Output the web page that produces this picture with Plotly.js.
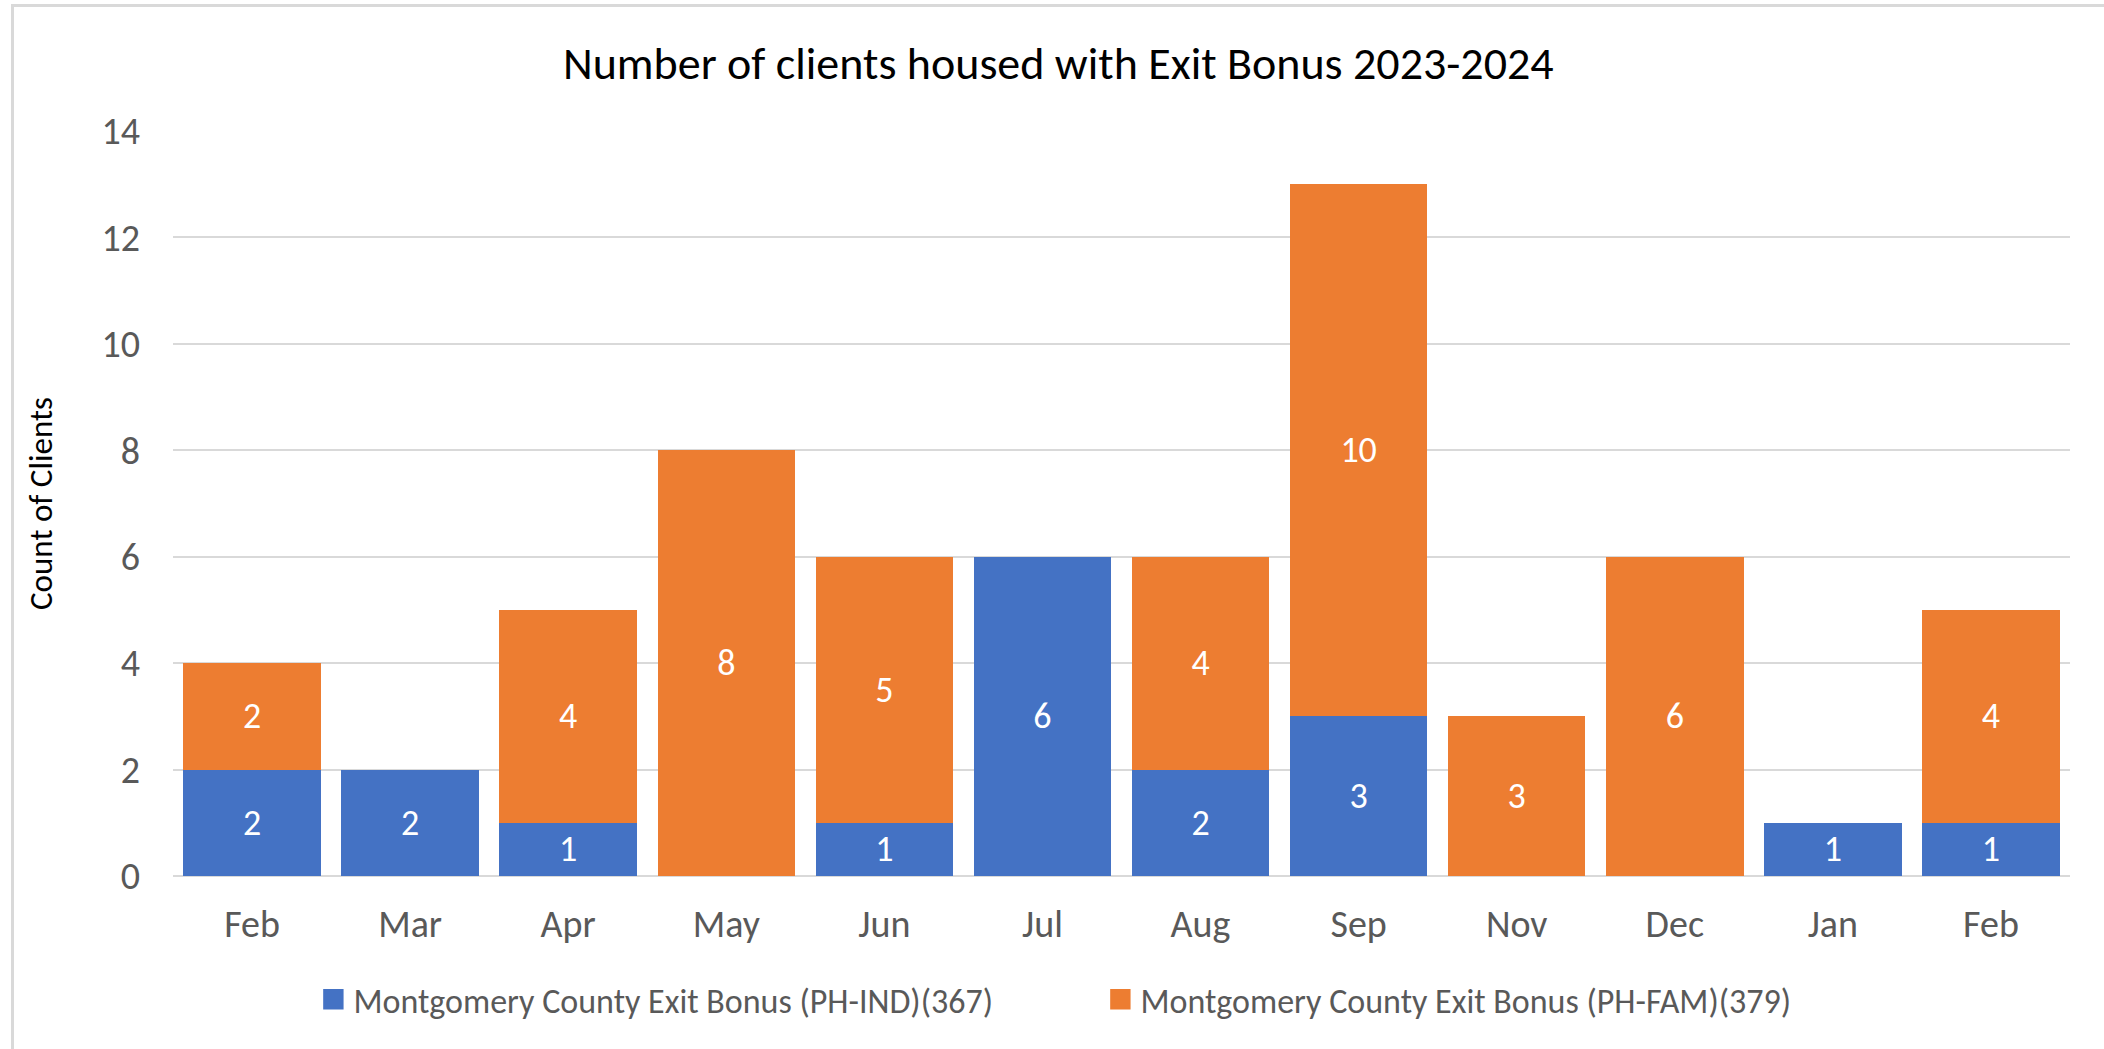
<!DOCTYPE html>
<html>
<head>
<meta charset="utf-8">
<script src="https://cdn.plot.ly/plotly-3.0.1.min.js"></script>
<style>
  html, body { margin: 0; padding: 0; background: #fff; overflow: hidden; }
  #chart { position: absolute; left: 0; top: 0; width: 2104px; height: 1049px; }
  #frame { position: absolute; left: 11px; top: 4px; width: 2200px; height: 1200px;
           border: 3px solid #d9d9d9; box-sizing: border-box; pointer-events: none; }
</style>
</head>
<body>
<div id="chart"></div>
<div id="frame"></div>
<script>
const months = ["Feb", "Mar", "Apr", "May", "Jun", "Jul", "Aug", "Sep", "Nov", "Dec", "Jan", "Feb"];
const indValues = [2, 2, 1, 0, 1, 6, 2, 3, 0, 0, 1, 1];
const famValues = [2, 0, 4, 8, 5, 0, 4, 10, 3, 6, 0, 4];
const indName = "Montgomery County Exit Bonus (PH-IND)(367)";
const famName = "Montgomery County Exit Bonus (PH-FAM)(379)";
const chartTitle = "Number of clients housed with Exit Bonus 2023-2024";
const yTitle = "Count of Clients";

const FONT = "Carlito, Calibri, Lato, 'Open Sans', sans-serif";
const pos = months.map((m, i) => i);
const lbl = arr => arr.map(v => v > 0 ? String(v) : "");

const traces = [
  {
    type: "bar", name: indName, x: pos, y: indValues,
    marker: { color: "#4472C4" },
    text: lbl(indValues), textposition: "inside", insidetextanchor: "middle",
    textangle: 0, constraintext: "none",
    insidetextfont: { family: FONT, size: 36, color: "#ffffff" },
    hoverinfo: "y"
  },
  {
    type: "bar", name: famName, x: pos, y: famValues,
    marker: { color: "#ED7D31" },
    text: lbl(famValues), textposition: "inside", insidetextanchor: "middle",
    textangle: 0, constraintext: "none",
    insidetextfont: { family: FONT, size: 36, color: "#ffffff" },
    hoverinfo: "y"
  }
];

const layout = {
  width: 2104, height: 1049,
  paper_bgcolor: "rgba(0,0,0,0)", plot_bgcolor: "#ffffff",
  margin: { l: 173, r: 34, t: 131, b: 173 },
  barmode: "stack", bargap: 0.13,
  font: { family: FONT, color: "#595959" },
  title: {
    text: chartTitle,
    font: { family: FONT, size: 46, color: "#000000" },
    x: 0.503, xanchor: "center", xref: "container",
    y: 0.94, yanchor: "middle", yref: "container"
  },
  xaxis: {
    range: [-0.5, 11.5], tickmode: "array", tickvals: pos, ticktext: months,
    showgrid: false, zeroline: false, showline: false, ticks: "",
    ticklabelstandoff: 22,
    tickfont: { family: FONT, size: 38, color: "#595959" },
    fixedrange: true
  },
  yaxis: {
    range: [0, 14], dtick: 2, tick0: 0,
    showgrid: true, gridcolor: "#d9d9d9", gridwidth: 2,
    zeroline: true, zerolinecolor: "#d9d9d9", zerolinewidth: 2,
    showline: false, ticks: "",
    ticklabelstandoff: 32,
    tickfont: { family: FONT, size: 38, color: "#595959" },
    title: { text: yTitle, font: { family: FONT, size: 33, color: "#000000" }, standoff: 38 },
    fixedrange: true
  },
  showlegend: true,
  legend: {
    orientation: "h", x: 0.074, xanchor: "left", y: -0.166, yanchor: "middle",
    font: { family: FONT, size: 34, color: "#595959" },
    entrywidth: 742, entrywidthmode: "pixels",
    traceorder: "normal", bgcolor: "rgba(0,0,0,0)"
  }
};

Plotly.newPlot("chart", traces, layout, { displayModeBar: false, staticPlot: true }).then(gd => {
  gd.querySelectorAll(".legendpoints path").forEach(p => {
    const t = p.getAttribute("transform") || "";
    p.setAttribute("transform", t + " scale(1.7)");
  });
});
</script>
</body>
</html>
